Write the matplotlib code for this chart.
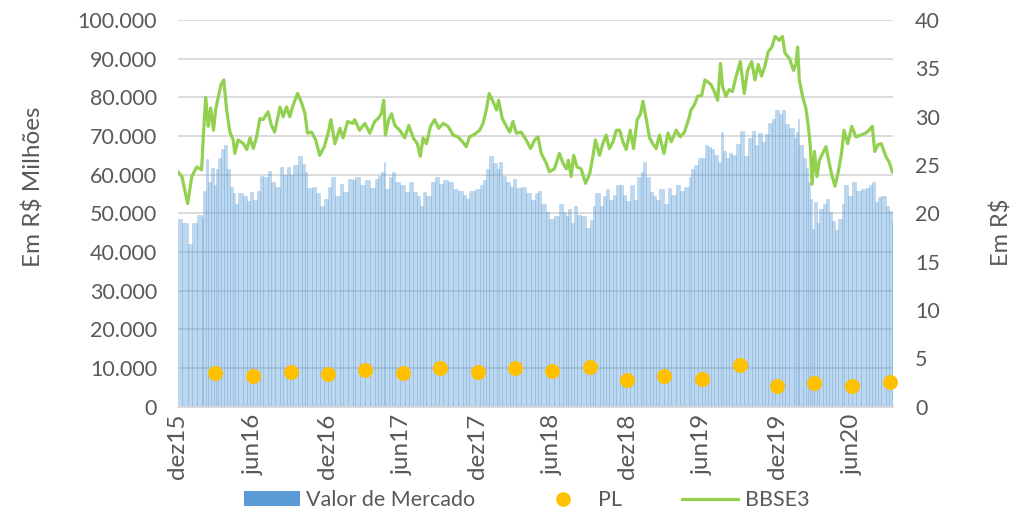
import numpy as np
import pandas as pd
import matplotlib
matplotlib.use("Agg")
import matplotlib.pyplot as plt
import matplotlib.dates as mdates
from matplotlib.patches import Patch
from matplotlib.lines import Line2D
from matplotlib.ticker import FuncFormatter, MultipleLocator

plt.rcParams['font.family'] = ['Lato', 'DejaVu Sans']

# cotacao BBSE3 (R$)
datas = [
    "2015-12-01", "2015-12-11", "2015-12-25",
    # 2016
    "2016-01-04", "2016-01-16", "2016-01-28", "2016-02-01", "2016-02-07", "2016-02-13",
    "2016-02-19", "2016-02-26", "2016-03-02", "2016-03-09", "2016-03-15", "2016-03-22",
    "2016-03-29", "2016-04-06", "2016-04-14", "2016-04-18", "2016-04-26", "2016-05-09",
    "2016-05-17", "2016-05-25", "2016-06-02", "2016-06-10", "2016-06-18", "2016-06-26",
    "2016-07-08", "2016-07-16", "2016-07-24", "2016-08-06", "2016-08-14", "2016-08-22",
    "2016-08-30", "2016-09-07", "2016-09-18", "2016-09-28", "2016-10-06", "2016-10-12",
    "2016-10-22", "2016-11-01", "2016-11-11", "2016-11-22", "2016-12-02", "2016-12-08",
    "2016-12-18", "2016-12-30",
    # 2017
    "2017-01-07", "2017-01-18", "2017-01-31", "2017-02-04", "2017-02-16", "2017-03-01",
    "2017-03-13", "2017-03-25", "2017-04-02", "2017-04-10", "2017-04-16", "2017-04-20",
    "2017-04-28", "2017-05-05", "2017-05-13", "2017-05-25", "2017-06-06", "2017-06-16",
    "2017-06-27", "2017-07-07", "2017-07-14", "2017-07-21", "2017-07-29", "2017-08-08",
    "2017-08-18", "2017-08-28", "2017-09-08", "2017-09-20", "2017-10-02", "2017-10-14",
    "2017-10-25", "2017-11-03", "2017-11-11", "2017-11-24", "2017-12-06", "2017-12-14",
    "2017-12-22", "2017-12-29",
    # 2018
    "2018-01-08", "2018-01-16", "2018-01-21", "2018-01-30", "2018-02-09", "2018-02-17",
    "2018-02-25", "2018-03-05", "2018-03-17", "2018-03-29", "2018-04-09", "2018-04-19",
    "2018-04-27", "2018-05-05", "2018-05-17", "2018-05-25", "2018-06-06", "2018-06-18",
    "2018-06-27", "2018-07-05", "2018-07-10", "2018-07-17", "2018-07-23", "2018-07-31",
    "2018-08-10", "2018-08-21", "2018-08-31", "2018-09-08", "2018-09-14", "2018-09-24",
    "2018-10-02", "2018-10-10", "2018-10-18", "2018-10-27", "2018-11-04", "2018-11-12",
    "2018-11-20", "2018-11-28", "2018-12-08", "2018-12-16", "2018-12-25",
    # 2019
    "2019-01-02", "2019-01-08", "2019-01-16", "2019-01-24", "2019-02-01", "2019-02-09",
    "2019-02-17", "2019-02-28", "2019-03-10", "2019-03-18", "2019-03-30", "2019-04-09",
    "2019-04-19", "2019-04-29", "2019-05-05", "2019-05-13", "2019-05-21", "2019-05-31",
    "2019-06-08", "2019-06-15", "2019-06-23", "2019-07-01", "2019-07-09", "2019-07-16",
    "2019-07-21", "2019-07-29", "2019-08-06", "2019-08-14", "2019-08-22", "2019-09-02",
    "2019-09-12", "2019-09-20", "2019-09-30", "2019-10-08", "2019-10-16", "2019-10-24",
    "2019-11-01", "2019-11-09", "2019-11-18", "2019-11-26", "2019-12-06", "2019-12-14",
    "2019-12-20", "2019-12-31",
    # 2020
    "2020-01-10", "2020-01-16", "2020-01-20", "2020-01-24", "2020-02-01", "2020-02-09",
    "2020-02-15", "2020-02-20", "2020-02-24", "2020-03-01", "2020-03-07", "2020-03-13",
    "2020-03-21", "2020-03-29", "2020-04-06", "2020-04-12", "2020-04-20", "2020-04-28",
    "2020-05-06", "2020-05-12", "2020-05-21", "2020-05-31", "2020-06-10", "2020-06-22",
    "2020-07-04", "2020-07-12", "2020-07-20", "2020-07-26", "2020-08-03", "2020-08-11",
    "2020-08-22", "2020-08-30", "2020-09-07",
]
bbse3 = [
    24.3, 23.8, 21.0,
    # 2016
    23.8, 24.8, 24.5, 27.9, 32.0, 29.0,
    30.9, 28.6, 30.7, 32.1, 33.3, 33.8,
    30.7, 28.4, 27.6, 26.2, 27.6, 27.2,
    26.6, 27.8, 26.7, 27.9, 29.8, 29.7,
    30.5, 29.1, 28.4, 31.0, 30.0, 31.0,
    30.0, 31.2, 32.4, 31.4, 30.3, 28.3,
    28.4, 27.6, 26.0, 26.9, 28.4, 29.7,
    27.2, 28.8,
    # 2017
    27.8, 29.5, 29.3, 29.7, 28.6, 29.3,
    28.3, 29.5, 29.8, 30.3, 31.7, 28.1,
    29.7, 30.3, 29.1, 28.6, 27.8, 29.1,
    27.8, 27.2, 25.9, 27.8, 27.2, 29.0,
    29.7, 28.8, 29.3, 29.0, 28.1, 27.9,
    27.4, 26.9, 27.9, 28.2, 28.6, 29.3,
    30.7, 32.4,
    # 2018
    31.5, 30.7, 31.7, 29.8, 29.0, 28.4,
    29.5, 28.3, 28.4, 27.6, 26.7, 27.6,
    27.9, 26.2, 25.2, 24.3, 24.6, 26.2,
    25.2, 24.6, 25.5, 23.8, 26.0, 24.8,
    24.6, 23.1, 24.1, 25.9, 27.6, 26.0,
    27.2, 28.1, 26.7, 27.4, 28.6, 28.6,
    27.4, 26.6, 28.6, 26.7, 29.7,
    # 2019
    30.3, 31.6, 29.7, 27.8, 27.2, 26.7,
    28.1, 26.2, 28.3, 27.4, 28.6, 27.9,
    28.4, 29.7, 30.7, 31.2, 32.1, 32.2,
    33.8, 33.6, 33.3, 32.6, 31.7, 35.5,
    33.1, 32.1, 32.8, 32.6, 34.0, 35.7,
    32.4, 34.8, 35.7, 33.8, 35.4, 34.2,
    35.2, 36.7, 37.2, 38.3, 37.9, 38.3,
    36.6, 36.0,
    # 2020
    34.8, 35.5, 37.2, 33.8, 32.1, 30.9,
    29.0, 26.9, 23.0, 26.4, 23.8, 25.5,
    26.2, 26.9, 25.2, 24.0, 22.8, 24.3,
    26.2, 28.6, 27.2, 29.0, 27.9, 28.1,
    28.3, 28.6, 29.0, 26.4, 27.1, 27.2,
    25.9, 25.3, 24.3,
]
assert len(datas) == len(bbse3)

acoes_mi = 2000  # quantidade de acoes (milhoes)

# patrimonio liquido (R$ milhoes), trimestral
pl_datas = ["2016-03-01", "2016-06-01", "2016-09-01", "2016-12-01", "2017-03-01",
            "2017-06-01", "2017-09-01", "2017-12-01", "2018-03-01", "2018-06-01",
            "2018-09-01", "2018-12-01", "2019-03-01", "2019-06-01", "2019-09-01",
            "2019-12-01", "2020-03-01", "2020-06-01", "2020-09-01"]
pl = [8640, 8020, 9050, 8380, 9410, 8790, 9930, 8970, 9930, 9310,
      10270, 6900, 7940, 7240, 10710, 5350, 6210, 5430, 6460]

rotulos = ["dez15", "jun16", "dez16", "jun17", "dez17", "jun18",
           "dez18", "jun19", "dez19", "jun20"]
rotulos_datas = ["2015-12-01", "2016-06-01", "2016-12-01", "2017-06-01", "2017-12-01",
                 "2018-06-01", "2018-12-01", "2019-06-01", "2019-12-01", "2020-06-01"]

inicio = pd.Timestamp("2015-12-01")
fim = pd.Timestamp("2020-09-08")

x = mdates.date2num(pd.to_datetime(datas))
larguras = np.diff(np.append(x, mdates.date2num(fim)))
valor_mercado = np.array(bbse3) * acoes_mi

cinza = '#595959'
azul = '#5B9BD5'
verde = '#92D050'
laranja = '#FFC000'

fig = plt.figure(figsize=(10.22, 5.14), dpi=100)
ax = fig.add_axes([0.174, 0.209, 0.6996, 0.752])

ax.bar(x, valor_mercado, width=larguras, align='edge', color=azul,
       alpha=0.4, edgecolor=azul, linewidth=0.4)
ax.scatter(mdates.date2num(pd.to_datetime(pl_datas)), pl, s=95,
           color=laranja, zorder=3, clip_on=False)

ax2 = ax.twinx()
ax2.plot(x, bbse3, color=verde, lw=2.3)

ax.set_xlim(mdates.date2num(inicio), mdates.date2num(fim))
ax.set_ylim(0, 100000)
ax2.set_ylim(0, 40)
ax.yaxis.set_major_locator(MultipleLocator(10000))
ax2.yaxis.set_major_locator(MultipleLocator(5))
ax.yaxis.set_major_formatter(FuncFormatter(lambda v, p: f"{int(v):,}".replace(",", ".")))

ax.set_xticks(mdates.date2num(pd.to_datetime(rotulos_datas)))
ax.set_xticklabels(rotulos, rotation=90)

ax.yaxis.grid(True, color='#D9D9D9', lw=1.3)
ax.set_axisbelow(True)

for a in (ax, ax2):
    for s in ('top', 'left', 'right', 'bottom'):
        a.spines[s].set_visible(False)
ax.spines['bottom'].set_visible(True)
ax.spines['bottom'].set_color('#D9D9D9')
ax.spines['bottom'].set_linewidth(1.3)

ax.tick_params(axis='y', length=0, labelsize=15.5, labelcolor=cinza, pad=15)
ax.tick_params(axis='x', length=0, labelsize=17.5, labelcolor=cinza, pad=5)
ax2.tick_params(axis='y', length=0, labelsize=15.5, labelcolor=cinza, pad=16)

ax.set_ylabel('Em R$ Milhões', fontsize=17.5, color=cinza)
ax.yaxis.set_label_coords(-0.186, 0.568)
ax2.set_ylabel('Em R$', fontsize=17, color=cinza)
ax2.yaxis.set_label_coords(1.136, 0.451)

handles = [Patch(facecolor=azul, edgecolor='none'),
           Line2D([], [], ls='none', marker='o', color=laranja, markersize=9.5),
           Line2D([], [], color=verde, lw=2.3)]
fig.legend(handles, ['Valor de Mercado', 'PL', 'BBSE3'], loc='center',
           bbox_to_anchor=(0.515, 0.027), ncol=3, frameon=False, fontsize=15.5,
           handlelength=2.6, handletextpad=0.3, columnspacing=2.8, labelcolor=cinza)

fig.savefig('out.png', dpi=100)
